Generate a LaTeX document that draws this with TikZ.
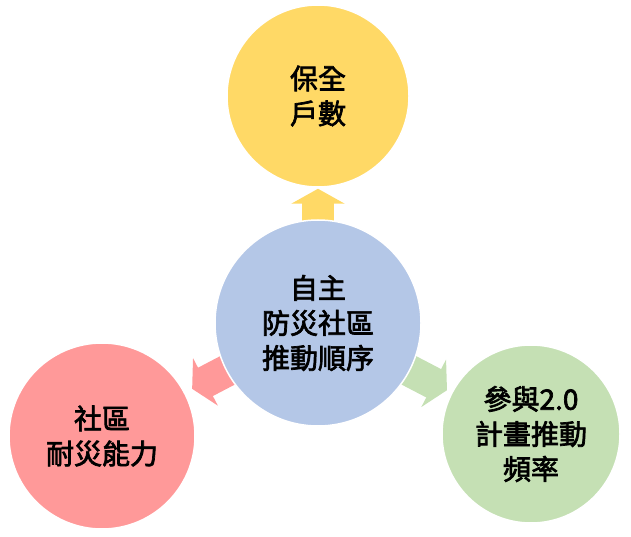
\documentclass[tikz,border=0pt]{standalone}
\usepackage{fontspec}
\setmainfont{Noto Sans CJK TC}
\newfontfamily\ballfont[FakeBold=2.5]{Noto Sans CJK TC}
\usepackage{tikz}
\usetikzlibrary{arrows.meta,backgrounds}

\definecolor{hhcol}{HTML}{FFD966}
\definecolor{maincol}{HTML}{B4C7E7}
\definecolor{rescol}{HTML}{FF9999}
\definecolor{freqcol}{HTML}{C5E0B4}

\begin{document}
\begin{tikzpicture}[x=1pt, y=1pt]
	
	\useasboundingbox (0, 0) rectangle (631, 536);
	
	\tikzset{ball/.style={shape=circle, draw=white, line width=1.5pt, inner sep=0pt,
			align=center, font=\ballfont\fontsize{28}{35}\selectfont}}
	\tikzset{push/.style={-{Triangle[length=15pt, width=53pt]}, line width=32pt, shorten <=-14pt}}
	
	\node[ball, fill=hhcol, minimum size=182pt]   (hh)   at (318, 440) {保全\\戶數};
	\node[ball, fill=maincol, minimum size=206pt] (main) at (318, 213) {自主\\防災社區\\推動順序};
	\node[ball, fill=rescol, minimum size=186pt]  (res)  at (102, 100) {社區\\耐災能力};
	\node[ball, fill=freqcol, minimum size=178pt] (freq) at (531, 102) {參與2.0\\計畫推動\\頻率};
	
	\begin{scope}[on background layer]
		\path[push] (main) edge[draw=hhcol, shorten >=1pt] (hh);
		\path[push] (main) edge[draw=rescol, shorten >=8pt] (res);
		\path[push] (main) edge[draw=freqcol, shorten >=5pt] (freq);
	\end{scope}
	
\end{tikzpicture}
\end{document}
